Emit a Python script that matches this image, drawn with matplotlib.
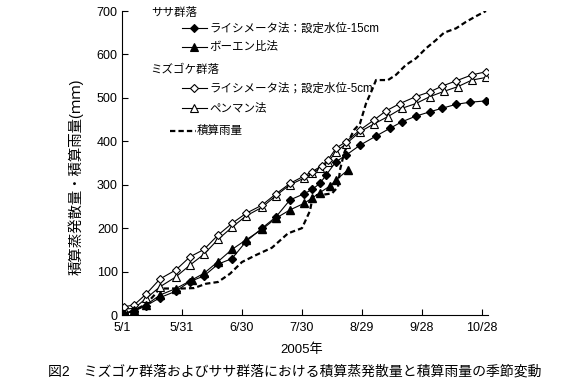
import matplotlib
matplotlib.use("Agg")
import matplotlib.pyplot as plt
from matplotlib.lines import Line2D

plt.rcParams['font.family'] = ['Liberation Sans', 'Noto Sans CJK JP', 'DejaVu Sans']

# Days since 5/1/2005
tick_days = [0, 30, 60, 90, 120, 150, 180]
tick_labels = ['5/1', '5/31', '6/30', '7/30', '8/29', '9/28', '10/28']
y_ticks = [0, 100, 200, 300, 400, 500, 600, 700]

# ササ群落 ライシメータ法 (設定水位-15cm)
sasa_lys_days = [1, 6, 12, 19, 27, 34, 41, 48, 55, 62, 70, 77, 84, 91, 95, 99, 102,
                 107, 112, 119, 127, 134, 140, 147, 154, 160, 167, 174, 182]
sasa_lys_vals = [2, 9, 21, 40, 55, 77, 90, 117, 130, 169, 200, 226, 265, 279, 289, 303, 322,
                 353, 368, 391, 412, 430, 445, 458, 468, 476, 485, 490, 493]

# ササ群落 ボーエン比法
sasa_bowen_days = [1, 6, 12, 19, 27, 35, 41, 48, 55, 62, 70, 77, 84, 91, 95, 99, 104, 107, 113]
sasa_bowen_vals = [3, 12, 23, 46, 61, 81, 96, 123, 151, 173, 197, 223, 242, 257, 269, 282, 297, 311, 334]

# ミズゴケ群落 ライシメータ法 (設定水位-5cm)
moss_lys_days = [1, 6, 12, 19, 27, 34, 41, 48, 55, 62, 70, 77, 84, 91, 95, 100, 103,
                 107, 112, 119, 126, 132, 139, 147, 154, 160, 167, 175, 182]
moss_lys_vals = [19, 23, 48, 83, 104, 134, 151, 184, 211, 234, 253, 279, 303, 320, 330, 344, 357,
                 384, 399, 426, 449, 470, 487, 503, 514, 527, 539, 553, 560]

# ミズゴケ群落 ペンマン法
moss_pen_days = [1, 6, 12, 19, 27, 34, 41, 48, 55, 62, 70, 77, 84, 91, 95, 99, 103,
                 107, 112, 119, 126, 133, 140, 147, 154, 161, 168, 175, 182]
moss_pen_vals = [14, 15, 38, 65, 88, 115, 140, 174, 202, 228, 248, 275, 300, 315, 327, 338, 352,
                 376, 394, 422, 440, 457, 476, 487, 503, 515, 526, 541, 547]

# 積算雨量
rain_days = [0, 6, 12, 16, 18, 21, 30, 36, 42, 48, 54, 60, 67, 75, 83, 90, 94, 95.5, 99,
             105, 108, 109, 111, 114, 116, 119, 122, 125, 127, 133, 137, 142, 147, 152,
             157, 161, 167, 172, 177, 182]
rain_vals = [0, 10, 25, 45, 57, 61, 61, 62, 72, 76, 95, 122, 138, 155, 188, 200, 240, 276, 276,
             280, 295, 334, 372, 407, 426, 441, 487, 518, 541, 541, 553, 576, 591, 614,
             633, 650, 660, 675, 688, 700]

fig = plt.figure(figsize=(5.63, 3.81), dpi=100)
ax = fig.add_axes([122/563, 1-315/381, 366/563, 304/381])

lw = 0.8
ms = 5
dash = (0, (2.4, 1.4))
ax.plot(rain_days, rain_vals, color='black', lw=1.6, ls=dash)
ax.plot(moss_pen_days, moss_pen_vals, color='black', lw=lw, marker='^', ms=ms+1,
        mfc='white', mec='black', mew=0.8)
ax.plot(moss_lys_days, moss_lys_vals, color='black', lw=lw, marker='D', ms=ms-0.5,
        mfc='white', mec='black', mew=0.8)
ax.plot(sasa_bowen_days, sasa_bowen_vals, color='black', lw=lw, marker='^', ms=ms+1,
        mfc='black', mec='black')
ax.plot(sasa_lys_days, sasa_lys_vals, color='black', lw=lw, marker='D', ms=ms-0.5,
        mfc='black', mec='black')

ax.set_xlim(0, 183)
ax.set_ylim(0, 700)
ax.set_xticks(tick_days)
ax.set_xticklabels(tick_labels)
ax.set_yticks(y_ticks)
ax.tick_params(direction='in', length=4, width=0.8, labelsize=9)
ax.tick_params(axis='y', pad=3)
ax.tick_params(axis='x', pad=5)
for s in ['top', 'right']:
    ax.spines[s].set_visible(False)
for s in ['left', 'bottom']:
    ax.spines[s].set_linewidth(0.8)

ax.set_xlabel('2005年', fontsize=9.5, va='center')
ax.xaxis.set_label_coords(0.492, -0.115)
ax.set_ylabel('積算蒸発散量・積算雨量(ｍｍ)', fontsize=10.4, va='center')
ax.yaxis.set_label_coords(-0.126, 0.454)

# Legend (manual)
T = ax.transAxes
fs = 8.3
ax.text(0.081, 0.994, 'ササ群落', transform=T, fontsize=fs, va='center', ha='left')
ax.text(0.078, 0.806, 'ミズゴケ群落', transform=T, fontsize=fs, va='center', ha='left')
entries = [
    (0.943, 'D', 'black', 'ライシメータ法：設定水位-15cm'),
    (0.880, '^', 'black', 'ボーエン比法'),
    (0.746, 'D', 'white', 'ライシメータ法；設定水位-5cm'),
    (0.680, '^', 'white', 'ペンマン法'),
]
for y, m, fc, label in entries:
    ax.add_line(Line2D([0.164, 0.232], [y, y], transform=T, color='black', lw=lw, clip_on=False))
    ax.add_line(Line2D([0.198], [y], transform=T, marker=m, ms=(ms+1 if m == '^' else ms-0.5),
                       mfc=fc, mec='black', mew=0.8, ls='none', clip_on=False))
    ax.text(0.238, y, label, transform=T, fontsize=fs, va='center', ha='left')
ax.add_line(Line2D([0.131, 0.202], [0.605, 0.605], transform=T, color='black', lw=1.6,
                   ls=dash, clip_on=False))
ax.text(0.203, 0.605, '積算雨量', transform=T, fontsize=fs, va='center', ha='left')

fig.text(48/563, 1-372/381, '図2　ミズゴケ群落およびササ群落における積算蒸発散量と積算雨量の季節変動',
         fontsize=10, va='center', ha='left')

fig.savefig('out.png', dpi=100)
